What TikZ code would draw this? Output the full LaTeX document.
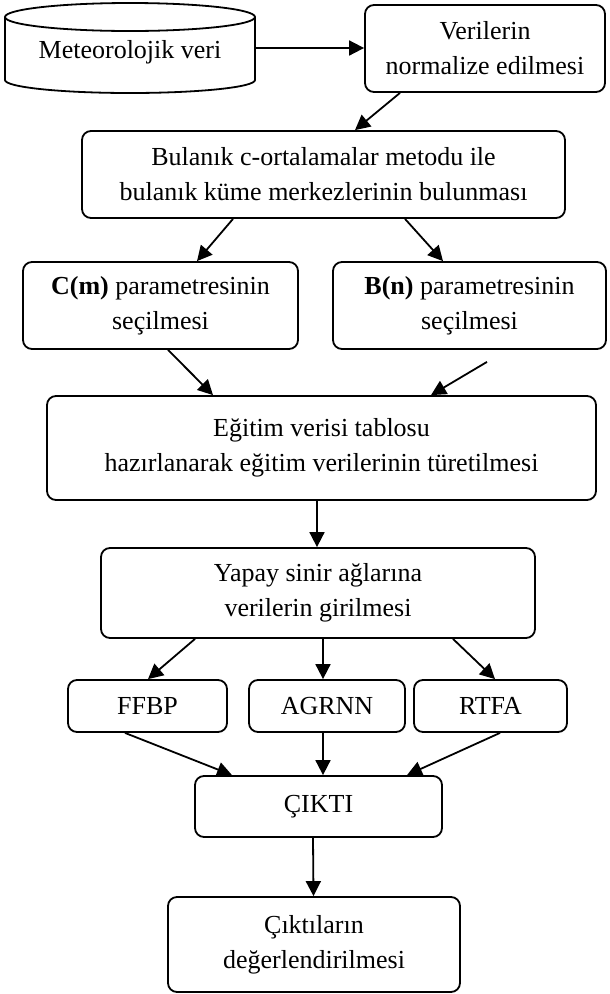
\documentclass[tikz,border=0pt]{standalone}
\usepackage{fontspec}
\setmainfont{Liberation Serif}
\usetikzlibrary{arrows.meta,calc}
\begin{document}
\begin{tikzpicture}[x=1pt,y=1pt,
  every node/.style={font=\fontsize{26}{35}\selectfont},
  box/.style={draw,line width=1.8pt,rounded corners=9pt,align=center,inner sep=0pt},
  arr/.style={line width=1.8pt,-{Triangle[length=15pt,width=15pt]}}]
\useasboundingbox (0,0) rectangle (610,-994);
% cylinder
\draw[line width=1.8pt] (5,-17) -- (5,-80) arc[start angle=180,end angle=360,x radius=125pt,y radius=13pt] -- (255,-17);
\draw[line width=1.8pt] (130,-17) ellipse[x radius=125pt,y radius=14pt];
\node[minimum width=250pt,minimum height=90pt,inner sep=0pt] (met) at (130,-52) {Meteorolojik veri};
\node[box,minimum width=240pt,minimum height=87pt] (ver) at (485,-48.5) {Verilerin\\normalize edilmesi};
\node[box,minimum width=483pt,minimum height=87pt] (bul) at (323.5,-174.5) {Bulanık c-ortalamalar metodu ile\\bulanık küme merkezlerinin bulunması};
\node[box,minimum width=275pt,minimum height=87pt] (cm) at (160.5,-305.5) {\textbf{C(m)} parametresinin\\seçilmesi};
\node[box,minimum width=273pt,minimum height=87pt] (bn) at (469.5,-305.5) {\textbf{B(n)} parametresinin\\seçilmesi};
\node[box,minimum width=549pt,minimum height=104pt] (egt) at (321.5,-448) {Eğitim verisi tablosu\\hazırlanarak eğitim verilerinin türetilmesi};
\node[box,minimum width=434pt,minimum height=90pt] (yap) at (318,-593) {Yapay sinir ağlarına\\verilerin girilmesi};
\node[box,minimum width=159pt,minimum height=52pt] (ffbp) at (147.5,-706) {FFBP};
\node[box,minimum width=156pt,minimum height=52pt] (agr) at (327,-706) {AGRNN};
\node[box,minimum width=153pt,minimum height=52pt] (rtfa) at (490.5,-706) {RTFA};
\node[box,minimum width=247pt,minimum height=61pt] (cikti) at (318.5,-806.5) {ÇIKTI};
\node[box,minimum width=292pt,minimum height=95pt] (cik2) at (314,-944.5) {Çıktıların\\değerlendirilmesi};
% connectors
\draw[arr] (met.east |- 0,-48) -- (ver.west |- 0,-48);
\draw[arr] ([xshift=-85pt]ver.south) -- ([xshift=31.5pt]bul.north);
\draw[arr] ([xshift=-90.5pt]bul.south) -- ([xshift=36.5pt]cm.north);
\draw[arr] ([xshift=81.5pt]bul.south) -- ([xshift=-26.5pt]bn.north);
\draw[arr] ([xshift=7.5pt]cm.south) -- ([xshift=-108.5pt]egt.north);
\draw[arr] ([xshift=17.5pt,yshift=-12pt]bn.south) -- ([xshift=109.5pt]egt.north);
\draw[arr] ([xshift=-4.5pt]egt.south) -- ([xshift=-1pt]yap.north);
\draw[arr] ([xshift=-123pt]yap.south) -- ([xshift=0.5pt]ffbp.north);
\draw[arr] ([xshift=5pt]yap.south) -- ([xshift=-4pt]agr.north);
\draw[arr] ([xshift=135pt]yap.south) -- ([xshift=4.5pt]rtfa.north);
\draw[arr] ([xshift=-22.5pt]ffbp.south) -- ([xshift=-86.5pt]cikti.north);
\draw[arr] ([xshift=-4pt]agr.south) -- ([xshift=4.5pt]cikti.north);
\draw[arr] ([xshift=9.5pt]rtfa.south) -- ([xshift=88.5pt]cikti.north);
\draw[arr] ([xshift=-5.5pt]cikti.south) -- ([xshift=-0.5pt]cik2.north);
\end{tikzpicture}
\end{document}
